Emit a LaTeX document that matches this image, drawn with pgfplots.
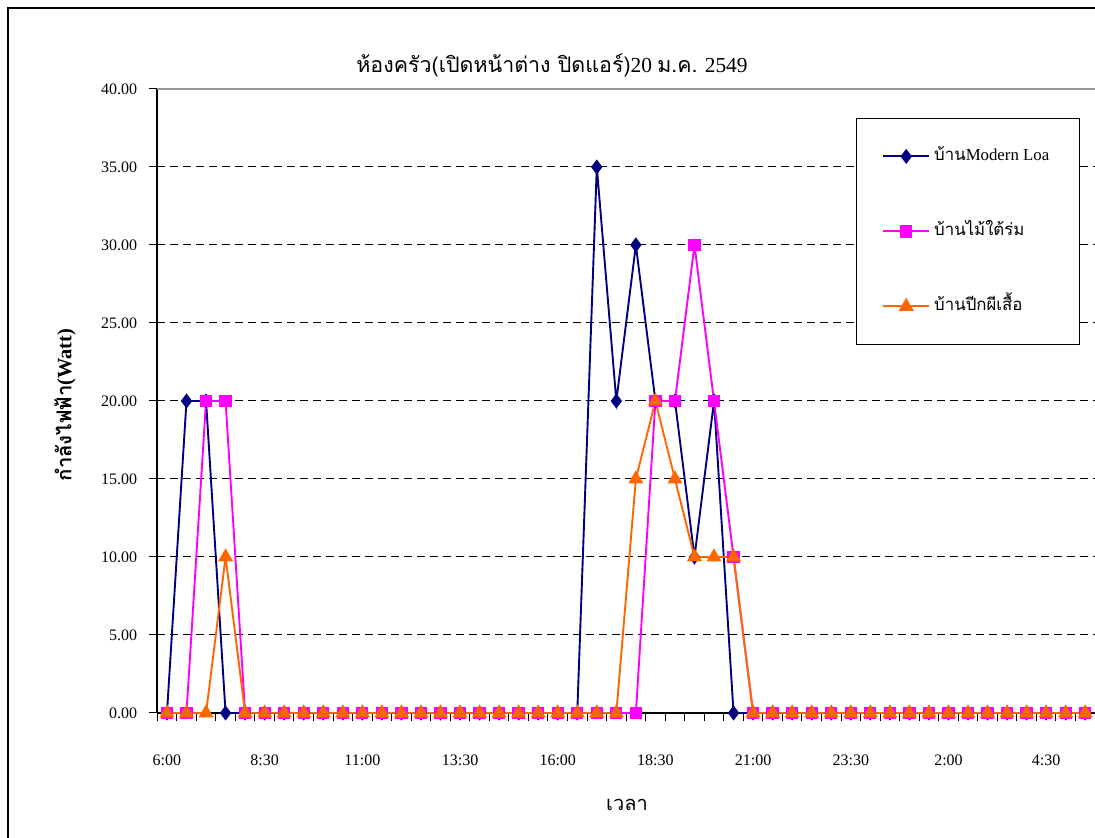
\documentclass[border=0pt]{standalone}
\usepackage{fontspec}
\setmainfont{Liberation Serif}
\newfontfamily\thaifont[Script=Thai]{Loma}
\usepackage{pgfplots}
\usepackage{pgfplotstable}
\pgfplotsset{compat=1.18}
\definecolor{navyc}{RGB}{0,0,128}
\definecolor{pinkc}{RGB}{255,0,255}
\definecolor{orangec}{RGB}{255,102,0}
\pgfplotstableread{
i  modern pink orange
0  0  0  0
1  20 0  0
2  20 20 0
3  0  20 10
4  0  0  0
5  0  0  0
6  0  0  0
7  0  0  0
8  0  0  0
9  0  0  0
10 0  0  0
11 0  0  0
12 0  0  0
13 0  0  0
14 0  0  0
15 0  0  0
16 0  0  0
17 0  0  0
18 0  0  0
19 0  0  0
20 0  0  0
21 0  0  0
22 35 0  0
23 20 0  0
24 30 0  15
25 20 20 20
26 20 20 15
27 10 30 10
28 20 20 10
29 0  10 10
30 0  0  0
31 0  0  0
32 0  0  0
33 0  0  0
34 0  0  0
35 0  0  0
36 0  0  0
37 0  0  0
38 0  0  0
39 0  0  0
40 0  0  0
41 0  0  0
42 0  0  0
43 0  0  0
44 0  0  0
45 0  0  0
46 0  0  0
47 0  0  0
}\datatable
\begin{document}
\begin{tikzpicture}
\begin{axis}[
  at={(0,0)}, anchor=south west,
  scale only axis,
  width=468.9pt, height=312pt,
  xmin=-0.5, xmax=47.5,
  ymin=0, ymax=40,
  axis x line*=bottom, axis y line*=left,
  axis line style={black, line width=0.8pt},
  xtick={-0.5,0.5,...,47.5},
  xticklabels={},
  extra x ticks={0,5,10,15,20,25,30,35,40,45},
  extra x tick labels={6:00,8:30,11:00,13:30,16:00,18:30,21:00,23:30,2:00,4:30},
  extra x tick style={major tick length=0pt, xticklabel style={anchor=center, yshift=-23.5pt}},
  ytick={0,5,...,35},
  extra y ticks={40},
  extra y tick style={grid style={solid, gray!80, line width=0.6pt}},
  ymajorgrids,
  grid style={black, dash pattern=on 4pt off 2.5pt, line width=0.5pt},
  tick align=outside,
  major tick length=4pt,
  tick style={black, line width=0.5pt},
  yticklabel style={xshift=-2.5pt, /pgf/number format/.cd, fixed, fixed zerofill, precision=2, assume math mode=true},
  ticklabel style={font=\fontsize{8}{9}\selectfont},
  legend style={at={(axis description cs:0.745,0.9535)}, anchor=north west,
    draw=black, fill=white,
    inner xsep=13pt, inner ysep=13pt, row sep=25.5pt,
    font=\fontsize{8.4}{9}\selectfont, cells={anchor=west},
    nodes={text height=6pt, text depth=2pt}},
  legend image code/.code={\draw[mark repeat=2,mark phase=2] plot coordinates {(0pt,0pt) (11.5pt,0pt) (23pt,0pt)};},
  clip=false,
]
\addplot[navyc, line width=0.95pt, mark=diamond*, mark size=3pt, mark options={solid, fill=navyc}] table[x=i, y=modern] {\datatable};
\addlegendentry{{\thaifont บ้าน}Modern Loa}
\addplot[pinkc, line width=0.95pt, mark=square*, mark size=2.6pt, mark options={solid, fill=pinkc}] table[x=i, y=pink] {\datatable};
\addlegendentry{{\thaifont บ้านไม้ใต้ร่ม}}
\addplot[orangec, line width=0.95pt, mark=triangle*, mark size=3.4pt, mark options={solid, fill=orangec}] table[x=i, y=orange] {\datatable};
\addlegendentry{{\thaifont บ้านปีกผีเสื้อ}}
\end{axis}
\node[font=\fontsize{10.7}{12}\selectfont] at (197.4pt,324pt) {{\thaifont ห้องครัว(เปิดหน้าต่าง ปิดแอร์)}20 {\thaifont ม.ค.} 2549};
\node[font=\fontsize{10}{12}\selectfont] at (234.9pt,-46pt) {\thaifont เวลา};
\node[rotate=90, font=\fontsize{10.2}{12}\selectfont] at (-46.1pt,154pt) {{\thaifont\bfseries กำลังไฟฟ้า}\textbf{(Watt)}};
\draw[black, line width=0.6pt] (-74.6pt,-80pt) -- (-74.6pt,352.5pt) -- (480pt,352.5pt);
\pgfresetboundingbox
\path[use as bounding box] (-78.6pt,-62.5pt) rectangle (468.9pt,356.5pt);
\end{tikzpicture}
\end{document}
